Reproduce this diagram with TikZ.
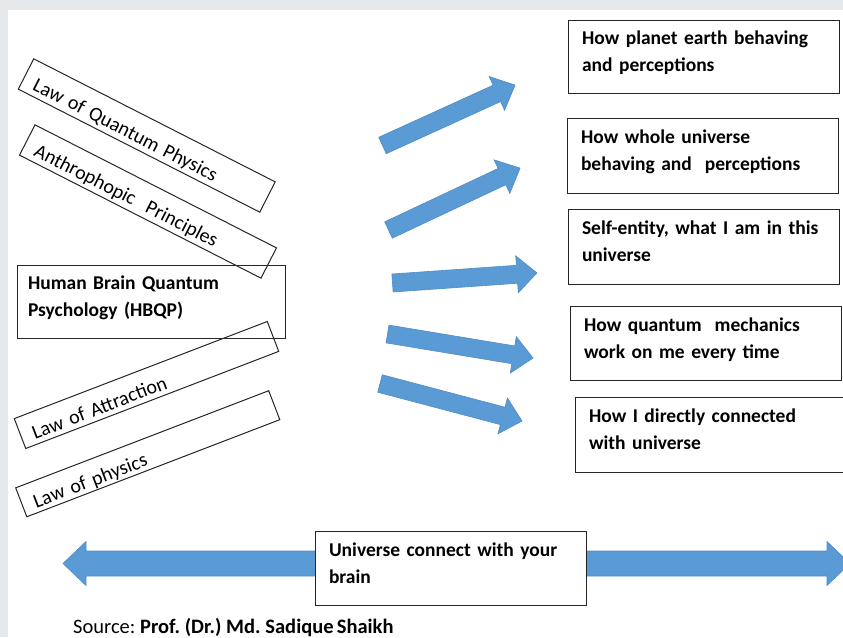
\documentclass[tikz,border=0pt]{standalone}
\usepackage{fontspec}
\setmainfont{Carlito}[WordSpace=0.7]
\definecolor{arrowblue}{HTML}{5B9BD5}
\definecolor{arrowedge}{HTML}{4F8BC4}
\definecolor{pagegray}{HTML}{E4E8EA}
\newcommand{\fatarrow}[3]{\filldraw[blockarrow,shift={#1},rotate=#2] (0,-9) -- ({#3-20},-9) -- ({#3-20},-18.5) -- (#3,0) -- ({#3-20},18.5) -- ({#3-20},9) -- (0,9) -- cycle;}
\begin{document}
\begin{tikzpicture}[x=1pt,y=-1pt,
	blockarrow/.style={fill=arrowblue,draw=arrowedge,line width=0.6pt,line join=miter},
	tiltbox/.style={draw=black!85,line width=1pt,minimum width=271pt,minimum height=34pt,inner xsep=12pt,inner ysep=3pt,text width=247pt,align=left,text height=22pt,text depth=0pt,font=\fontsize{20}{24}\selectfont},
	infobox/.style={draw=black!85,line width=1pt,minimum width=271pt,minimum height=74pt,inner xsep=14pt,inner ysep=2pt,text width=243pt,align=left,text height=14pt,text depth=38pt,font=\fontsize{19.5}{27}\selectfont\bfseries}]
	\useasboundingbox (0,0) rectangle (843,637);
	\clip (0,0) rectangle (843,637);
	\fill[pagegray] (0,0) rectangle (843,637);
	\fill[white] (8,10) rectangle (843,637);
	\fatarrow{(382.5,145.5)}{24.5}{145.7}
	\fatarrow{(388.5,230)}{25.2}{145.4}
	\fatarrow{(392.5,283)}{4}{144.8}
	\fatarrow{(387.5,334)}{-9.4}{147.5}
	\fatarrow{(380,383.5)}{-14.8}{146.9}
	\filldraw[blockarrow] (63,563.5) -- (86,541.5) -- (86,551) -- (827,551) -- (827,541.5) -- (850,563.5) -- (827,585.5) -- (827,576) -- (86,576) -- (86,585.5) -- cycle;
	\node[infobox,minimum height=73pt] (earth) at (703.5,56.5) {How planet earth behaving\\and perceptions};
	\node[infobox,minimum height=75pt] (whole) at (702.5,155.5) {How whole universe\\behaving and\ \ perceptions};
	\node[infobox,minimum height=75pt] (self) at (703.5,246.5) {Self-entity, what I am in this\\universe};
	\node[infobox] (quantum) at (705.5,343) {How quantum\ \ mechanics\\work on me every time};
	\node[infobox,minimum height=75pt] (direct) at (710.5,434.5) {How I directly connected\\with universe};
	\node[infobox,fill=white] (connect) at (450.5,568) {Universe connect with your\\brain};
	\node[infobox,minimum width=268pt,minimum height=73pt,inner xsep=11pt,text width=246pt] (hbqp) at (151,301.5) {Human Brain Quantum\\Psychology (HBQP)};
	\node[tiltbox,rotate=-27] (lqp) at (146.75,135.5) {Law of Quantum Physics};
	\node[tiltbox,rotate=-27] (anthro) at (148,201.5) {Anthrophopic\ \ Principles};
	\node[tiltbox,rotate=21,minimum height=32pt] (attract) at (146.5,385) {Law of Attraction};
	\node[tiltbox,rotate=21,minimum height=31pt] (lphys) at (147.75,453.75) {Law of physics};
	\node[anchor=base west,inner sep=0pt,font=\fontsize{20.5}{24}\selectfont] (source) at (73,633) {Source: \textbf{Prof. (Dr.) Md. Sadique Shaikh}};
\end{tikzpicture}
\end{document}
